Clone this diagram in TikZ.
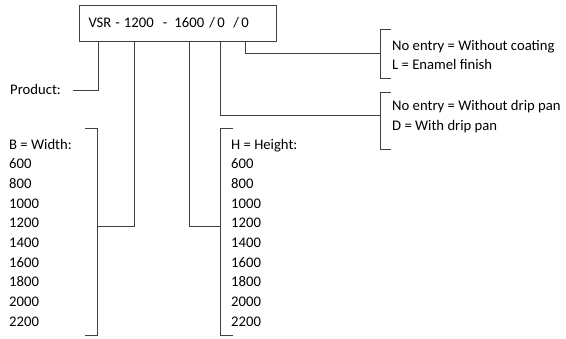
\documentclass[tikz,border=0pt]{standalone}
\usepackage{fontspec}
\setmainfont{Carlito}
\begin{document}
\begin{tikzpicture}[x=1pt,y=-1pt,
  line/.style={draw=black!75, line width=0.8pt},
  lbl/.style={anchor=base west, inner sep=0pt, font=\fontsize{14.67}{19.7}\selectfont},
  codebox/.style={draw=black!75, line width=0.8pt, minimum width=197pt, minimum height=36pt,
     text width=178pt, inner xsep=9.5pt, inner ysep=0pt, align=left, font=\fontsize{14.67}{19.7}\selectfont}]
\useasboundingbox (0,0) rectangle (566,338);
\node[codebox] (code) at (177.5,23) {\makebox[27pt][l]{VSR}\makebox[8.5pt][l]{-}\makebox[38.9pt][l]{1200}\makebox[11.6pt][l]{-}\makebox[35pt][l]{1600}\makebox[8pt][l]{/}\makebox[16pt][l]{0}\makebox[8pt][l]{/}0};
% Product
\node[lbl] (prod) at (10,94) {Product:};
\coordinate (pe) at (73,90);
\draw[line] (code.south -| 98,0) |- (pe);
% Width bracket
\node[lbl] (bw) at (9,149) {B = Width:};
\foreach \v [count=\i] in {600,800,1000,1200,1400,1600,1800,2000,2200}
  \node[lbl] (w\i) at (9,149+19.7*\i) {\v};
\coordinate (bwt) at (85,128);
\coordinate (bwb) at (85,335);
\draw[line] (bwt) -- (97,128) -- (97,335) -- (bwb);
\coordinate (bwm) at (97,226);
\draw[line] (code.south -| 134,0) |- (bwm);
% Height bracket
\node[lbl] (hh) at (231,149) {H = Height:};
\foreach \v [count=\i] in {600,800,1000,1200,1400,1600,1800,2000,2200}
  \node[lbl] (h\i) at (231,149+19.7*\i) {\v};
\coordinate (bht) at (233,128);
\coordinate (bhb) at (233,335);
\draw[line] (bht) -- (220,128) -- (220,335) -- (bhb);
\coordinate (bhm) at (220,226);
\draw[line] (code.south -| 189,0) |- (bhm);
% Drip pan bracket
\node[lbl] (d1) at (392,110) {No entry = Without drip pan};
\node[lbl] (d2) at (392,130) {D = With drip pan};
\coordinate (bdt) at (391,92);
\coordinate (bdb) at (391,149);
\draw[line] (bdt) -- (380,92) -- (380,149) -- (bdb);
\coordinate (bdm) at (380,115);
\draw[line] (code.south -| 220,0) |- (bdm);
% Coating bracket
\node[lbl] (c1) at (392,50) {No entry = Without coating};
\node[lbl] (c2) at (392,69.5) {L = Enamel finish};
\coordinate (bct) at (391,29);
\coordinate (bcb) at (391,78);
\draw[line] (bct) -- (380,29) -- (380,78) -- (bcb);
\coordinate (bcm) at (380,53);
\draw[line] (code.south -| 245,0) |- (bcm);
\end{tikzpicture}
\end{document}
